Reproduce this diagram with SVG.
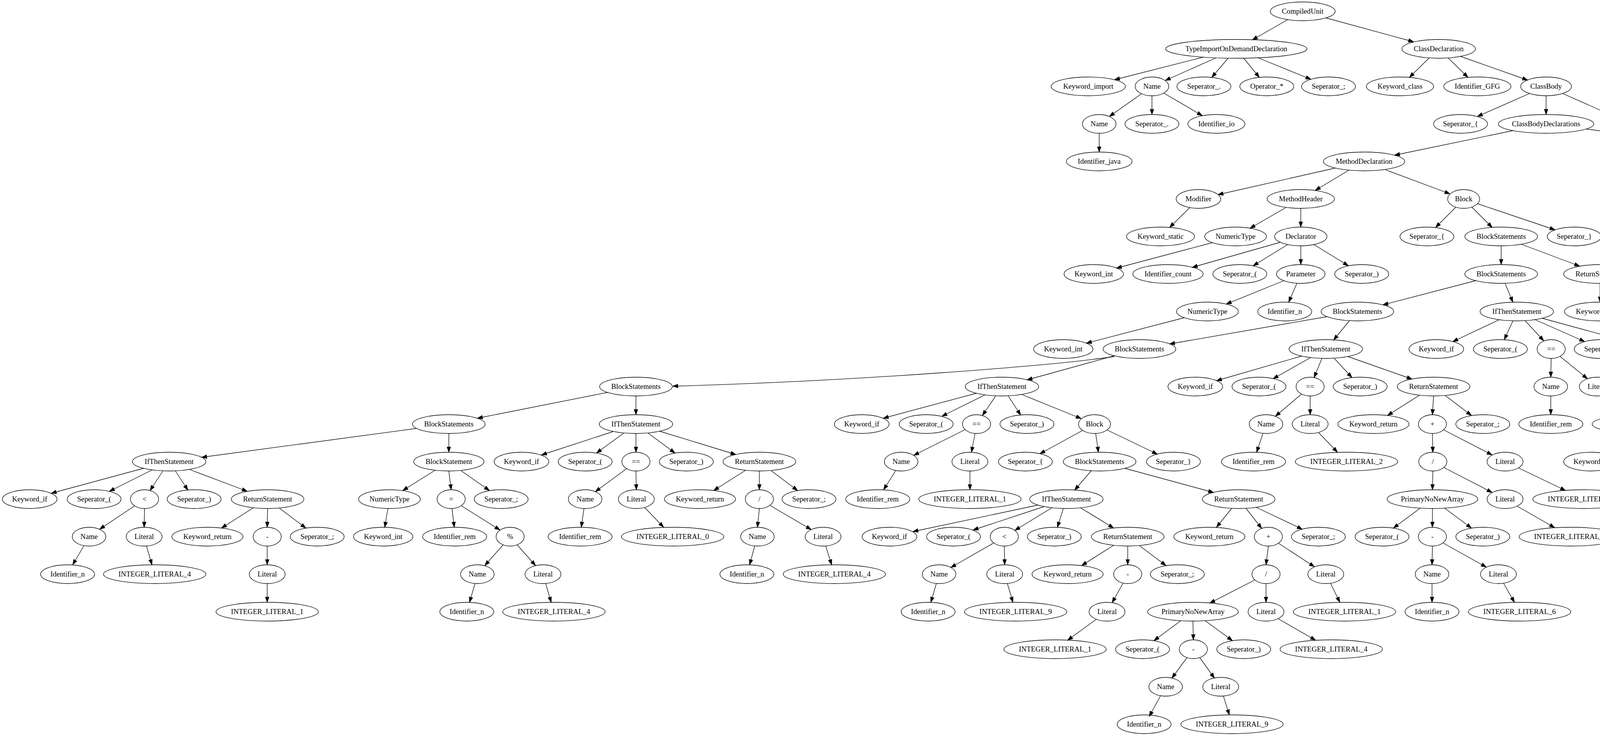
<svg xmlns="http://www.w3.org/2000/svg" width="7995" height="1883" viewBox="0 0 7995 1883">
<style>
.node ellipse{fill:none;stroke:#000;stroke-width:1.33}
.node text{font-family:"Liberation Serif","Times New Roman",serif;font-size:18.67px;text-anchor:middle;fill:#000}
.edges line,.edges path{fill:none;stroke:#000;stroke-width:1.33;marker-end:url(#ah)}
</style>
<defs>
<marker id="ah" markerWidth="16" markerHeight="12" refX="13.3" refY="4.7" orient="auto" markerUnits="userSpaceOnUse" overflow="visible"><path d="M0,0 L13.3,4.7 L0,9.4 z" fill="#000" stroke="#000" stroke-width="1"/></marker>
</defs>
<rect width="7995" height="1883" fill="#fff"/>
<g class="edges">
<line x1="3297" y1="50" x2="3206" y2="102"/>
<line x1="3395" y1="46" x2="3619" y2="107"/>
<line x1="3081" y1="146" x2="2853" y2="204"/>
<line x1="3113" y1="148" x2="2983" y2="206"/>
<line x1="3144" y1="149" x2="3102" y2="198"/>
<line x1="3184" y1="149" x2="3224" y2="198"/>
<line x1="3221" y1="148" x2="3356" y2="203"/>
<line x1="3659" y1="148" x2="3608" y2="198"/>
<line x1="3707" y1="148" x2="3758" y2="198"/>
<line x1="3738" y1="144" x2="3911" y2="205"/>
<line x1="2922" y1="240" x2="2840" y2="298"/>
<line x1="2949" y1="245" x2="2949" y2="293"/>
<line x1="2979" y1="238" x2="3078" y2="296"/>
<line x1="3916" y1="239" x2="3782" y2="298"/>
<line x1="3958" y1="245" x2="3958" y2="293"/>
<line x1="4000" y1="239" x2="4133" y2="298"/>
<line x1="2814" y1="341" x2="2814" y2="389"/>
<line x1="3874" y1="334" x2="3570" y2="397"/>
<line x1="4060" y1="330" x2="4604" y2="401"/>
<line x1="3418" y1="430" x2="3118" y2="498"/>
<line x1="3454" y1="435" x2="3367" y2="487"/>
<line x1="3546" y1="434" x2="3712" y2="496"/>
<line x1="3046" y1="531" x2="2994" y2="582"/>
<line x1="3292" y1="531" x2="3200" y2="584"/>
<line x1="3330" y1="533" x2="3330" y2="581"/>
<line x1="3727" y1="530" x2="3675" y2="582"/>
<line x1="3768" y1="530" x2="3820" y2="582"/>
<line x1="3782" y1="521" x2="3981" y2="588"/>
<line x1="3103" y1="621" x2="2858" y2="686"/>
<line x1="3277" y1="620" x2="3052" y2="684"/>
<line x1="3296" y1="626" x2="3208" y2="680"/>
<line x1="3330" y1="629" x2="3330" y2="677"/>
<line x1="3364" y1="626" x2="3452" y2="680"/>
<line x1="3843" y1="629" x2="3843" y2="677"/>
<line x1="3895" y1="625" x2="4044" y2="681"/>
<line x1="3287" y1="718" x2="3139" y2="778"/>
<line x1="3320" y1="725" x2="3299" y2="773"/>
<line x1="3778" y1="718" x2="3540" y2="780"/>
<line x1="3853" y1="725" x2="3873" y2="773"/>
<line x1="4096" y1="725" x2="4096" y2="773"/>
<line x1="4133" y1="723" x2="4227" y2="779"/>
<line x1="4154" y1="720" x2="4340" y2="781"/>
<line x1="3031" y1="813" x2="2781" y2="878"/>
<line x1="3398" y1="810" x2="2994" y2="880"/>
<line x1="3455" y1="820" x2="3414" y2="870"/>
<line x1="3838" y1="818" x2="3719" y2="874"/>
<line x1="3873" y1="821" x2="3851" y2="869"/>
<line x1="3904" y1="820" x2="3952" y2="872"/>
<line x1="3930" y1="818" x2="4057" y2="874"/>
<line x1="3947" y1="814" x2="4200" y2="883"/>
<line x1="4289" y1="814" x2="4394" y2="870"/>
<line x1="3332" y1="911" x2="3114" y2="974"/>
<line x1="3355" y1="915" x2="3259" y2="969"/>
<line x1="3384" y1="917" x2="3364" y2="966"/>
<line x1="3415" y1="916" x2="3461" y2="966"/>
<line x1="3450" y1="912" x2="3615" y2="970"/>
<line x1="3971" y1="917" x2="3970" y2="965"/>
<line x1="3994" y1="912" x2="4064" y2="969"/>
<line x1="4237" y1="917" x2="4236" y2="965"/>
<line x1="4269" y1="908" x2="4394" y2="968"/>
<line x1="4275" y1="902" x2="4572" y2="975"/>
<line x1="3332" y1="1008" x2="3265" y2="1065"/>
<line x1="3354" y1="1013" x2="3354" y2="1061"/>
<line x1="3634" y1="1011" x2="3552" y2="1063"/>
<line x1="3670" y1="1013" x2="3667" y2="1061"/>
<line x1="3700" y1="1012" x2="3767" y2="1063"/>
<line x1="3970" y1="1013" x2="3970" y2="1061"/>
<line x1="4114" y1="1009" x2="4178" y2="1062"/>
<line x1="4442" y1="1013" x2="4452" y2="1061"/>
<line x1="4513" y1="1003" x2="4863" y2="1071"/>
<line x1="3233" y1="1109" x2="3217" y2="1157"/>
<line x1="3375" y1="1106" x2="3424" y2="1157"/>
<line x1="3667" y1="1109" x2="3668" y2="1157"/>
<line x1="3696" y1="1100" x2="3820" y2="1164"/>
<line x1="4389" y1="1102" x2="4130" y2="1167"/>
<line x1="4408" y1="1106" x2="4278" y2="1162"/>
<line x1="4434" y1="1108" x2="4385" y2="1161"/>
<line x1="4466" y1="1109" x2="4485" y2="1157"/>
<line x1="4504" y1="1106" x2="4633" y2="1160"/>
<line x1="4926" y1="1109" x2="4903" y2="1157"/>
<line x1="4963" y1="1108" x2="5021" y2="1162"/>
<line x1="4987" y1="1105" x2="5127" y2="1163"/>
<line x1="3668" y1="1205" x2="3667" y2="1253"/>
<line x1="3696" y1="1196" x2="3820" y2="1260"/>
<line x1="3887" y1="1197" x2="4008" y2="1255"/>
<line x1="4344" y1="1200" x2="4278" y2="1257"/>
<line x1="4366" y1="1205" x2="4368" y2="1253"/>
<line x1="4646" y1="1203" x2="4565" y2="1255"/>
<line x1="4681" y1="1205" x2="4681" y2="1253"/>
<line x1="4711" y1="1204" x2="4780" y2="1255"/>
<line x1="5042" y1="1205" x2="5042" y2="1253"/>
<line x1="5071" y1="1195" x2="5210" y2="1261"/>
<line x1="3636" y1="1300" x2="3567" y2="1351"/>
<line x1="3667" y1="1301" x2="3667" y2="1349"/>
<line x1="3698" y1="1300" x2="3767" y2="1351"/>
<line x1="3884" y1="1295" x2="3980" y2="1350"/>
<line x1="4254" y1="1301" x2="4247" y2="1349"/>
<line x1="4391" y1="1298" x2="4448" y2="1349"/>
<line x1="4681" y1="1301" x2="4681" y2="1349"/>
<line x1="5023" y1="1297" x2="4973" y2="1349"/>
<line x1="5062" y1="1297" x2="5117" y2="1352"/>
<line x1="5265" y1="1298" x2="5316" y2="1349"/>
<line x1="3667" y1="1397" x2="3666" y2="1445"/>
<line x1="3694" y1="1389" x2="3805" y2="1451"/>
<line x1="4662" y1="1395" x2="4618" y2="1445"/>
<line x1="4919" y1="1396" x2="4850" y2="1447"/>
<line x1="4950" y1="1397" x2="4951" y2="1445"/>
<line x1="4981" y1="1396" x2="5051" y2="1447"/>
<line x1="5169" y1="1391" x2="5264" y2="1446"/>
<line x1="3666" y1="1493" x2="3666" y2="1541"/>
<line x1="3849" y1="1492" x2="3877" y2="1541"/>
<line x1="4932" y1="1490" x2="4883" y2="1544"/>
<line x1="4969" y1="1490" x2="5017" y2="1543"/>
<line x1="4856" y1="1589" x2="4842" y2="1637"/>
<line x1="5043" y1="1589" x2="5058" y2="1637"/>
<path d="M2853,912 C2700,935 2200,975 1722,988"/>
<line x1="2853" y1="910" x2="2629" y2="972"/>
<line x1="1555" y1="1004" x2="1222" y2="1070"/>
<line x1="1628" y1="1013" x2="1628" y2="1061"/>
<line x1="2500" y1="1006" x2="2261" y2="1070"/>
<line x1="2522" y1="1010" x2="2411" y2="1065"/>
<line x1="2549" y1="1013" x2="2515" y2="1063"/>
<line x1="2581" y1="1013" x2="2613" y2="1062"/>
<line x1="2615" y1="1009" x2="2768" y2="1071"/>
<line x1="1570" y1="1104" x2="1386" y2="1164"/>
<line x1="1597" y1="1108" x2="1527" y2="1159"/>
<line x1="1628" y1="1109" x2="1628" y2="1157"/>
<line x1="1659" y1="1108" x2="1728" y2="1159"/>
<line x1="1688" y1="1103" x2="1884" y2="1163"/>
<line x1="2471" y1="1099" x2="2339" y2="1165"/>
<line x1="2496" y1="1109" x2="2487" y2="1157"/>
<line x1="2772" y1="1101" x2="2662" y2="1161"/>
<line x1="2805" y1="1109" x2="2812" y2="1157"/>
<line x1="2834" y1="1100" x2="2963" y2="1162"/>
<line x1="1067" y1="1096" x2="516" y2="1170"/>
<line x1="1149" y1="1109" x2="1149" y2="1157"/>
<line x1="368" y1="1198" x2="131" y2="1262"/>
<line x1="390" y1="1202" x2="280" y2="1257"/>
<line x1="417" y1="1205" x2="384" y2="1255"/>
<line x1="449" y1="1205" x2="481" y2="1254"/>
<line x1="485" y1="1201" x2="633" y2="1257"/>
<line x1="1114" y1="1203" x2="1031" y2="1255"/>
<line x1="1149" y1="1205" x2="1155" y2="1253"/>
<line x1="1180" y1="1204" x2="1253" y2="1255"/>
<line x1="1604" y1="1199" x2="1524" y2="1258"/>
<line x1="1628" y1="1205" x2="1629" y2="1253"/>
<line x1="1909" y1="1203" x2="1827" y2="1255"/>
<line x1="1944" y1="1205" x2="1944" y2="1253"/>
<line x1="1974" y1="1204" x2="2042" y2="1255"/>
<line x1="2293" y1="1204" x2="2262" y2="1253"/>
<line x1="2483" y1="1205" x2="2483" y2="1253"/>
<line x1="2794" y1="1204" x2="2751" y2="1254"/>
<line x1="2879" y1="1198" x2="3107" y2="1260"/>
<line x1="345" y1="1294" x2="255" y2="1354"/>
<line x1="370" y1="1301" x2="369" y2="1349"/>
<line x1="649" y1="1299" x2="567" y2="1351"/>
<line x1="685" y1="1301" x2="684" y2="1349"/>
<line x1="715" y1="1300" x2="783" y2="1351"/>
<line x1="993" y1="1301" x2="985" y2="1349"/>
<line x1="1157" y1="1301" x2="1163" y2="1349"/>
<line x1="1181" y1="1294" x2="1280" y2="1356"/>
<line x1="1495" y1="1301" x2="1488" y2="1349"/>
<line x1="1650" y1="1298" x2="1699" y2="1349"/>
<line x1="1944" y1="1301" x2="1939" y2="1349"/>
<line x1="1971" y1="1293" x2="2077" y2="1355"/>
<line x1="2658" y1="1292" x2="2337" y2="1360"/>
<line x1="2673" y1="1296" x2="2491" y2="1356"/>
<line x1="2693" y1="1299" x2="2598" y2="1357"/>
<line x1="2722" y1="1301" x2="2707" y2="1349"/>
<line x1="2766" y1="1299" x2="2851" y2="1351"/>
<line x1="3153" y1="1301" x2="3114" y2="1349"/>
<line x1="3190" y1="1301" x2="3230" y2="1352"/>
<line x1="3216" y1="1298" x2="3334" y2="1354"/>
<line x1="215" y1="1396" x2="186" y2="1445"/>
<line x1="375" y1="1397" x2="389" y2="1445"/>
<line x1="684" y1="1397" x2="684" y2="1445"/>
<line x1="1288" y1="1394" x2="1241" y2="1447"/>
<line x1="1324" y1="1394" x2="1371" y2="1447"/>
<line x1="1932" y1="1397" x2="1919" y2="1445"/>
<line x1="2114" y1="1397" x2="2129" y2="1445"/>
<line x1="2544" y1="1389" x2="2434" y2="1452"/>
<line x1="2571" y1="1397" x2="2572" y2="1445"/>
<line x1="2851" y1="1395" x2="2769" y2="1447"/>
<line x1="2887" y1="1397" x2="2887" y2="1445"/>
<line x1="2917" y1="1396" x2="2985" y2="1447"/>
<line x1="3247" y1="1397" x2="3241" y2="1445"/>
<line x1="3273" y1="1390" x2="3365" y2="1450"/>
<line x1="684" y1="1493" x2="684" y2="1541"/>
<line x1="1216" y1="1493" x2="1202" y2="1541"/>
<line x1="1397" y1="1493" x2="1411" y2="1541"/>
<line x1="2397" y1="1493" x2="2383" y2="1541"/>
<line x1="2579" y1="1493" x2="2593" y2="1541"/>
<line x1="2875" y1="1492" x2="2847" y2="1542"/>
<line x1="3212" y1="1484" x2="3097" y2="1543"/>
<line x1="3241" y1="1493" x2="3241" y2="1541"/>
<line x1="3406" y1="1492" x2="3430" y2="1541"/>
<line x1="2807" y1="1584" x2="2733" y2="1638"/>
<line x1="3023" y1="1588" x2="2954" y2="1639"/>
<line x1="3054" y1="1589" x2="3055" y2="1637"/>
<line x1="3085" y1="1588" x2="3155" y2="1639"/>
<line x1="3272" y1="1583" x2="3368" y2="1638"/>
<line x1="3039" y1="1682" x2="3000" y2="1735"/>
<line x1="3071" y1="1682" x2="3109" y2="1735"/>
<line x1="2971" y1="1780" x2="2942" y2="1833"/>
<line x1="3132" y1="1781" x2="3147" y2="1829"/>
<line x1="4671" y1="436" x2="4622" y2="487"/>
<line x1="4717" y1="436" x2="4766" y2="486"/>
<line x1="4795" y1="419" x2="6209" y2="507"/>
<line x1="4565" y1="529" x2="4464" y2="586"/>
<line x1="4600" y1="533" x2="4600" y2="581"/>
<line x1="4789" y1="533" x2="4789" y2="581"/>
<line x1="4831" y1="530" x2="4942" y2="586"/>
<line x1="6229" y1="530" x2="6174" y2="582"/>
<line x1="6271" y1="530" x2="6322" y2="582"/>
<line x1="6286" y1="521" x2="6484" y2="588"/>
<line x1="4421" y1="629" x2="4404" y2="677"/>
<line x1="4600" y1="629" x2="4600" y2="677"/>
<line x1="4944" y1="625" x2="4840" y2="680"/>
<line x1="4981" y1="629" x2="4981" y2="677"/>
<line x1="5015" y1="626" x2="5103" y2="681"/>
<line x1="5032" y1="621" x2="5241" y2="685"/>
<line x1="6345" y1="629" x2="6345" y2="677"/>
<path d="M6432,614 C6700,650 6950,675 7205,691"/>
<line x1="5104" y1="722" x2="5019" y2="776"/>
<line x1="5142" y1="725" x2="5153" y2="773"/>
<line x1="6297" y1="722" x2="6167" y2="777"/>
<line x1="6406" y1="719" x2="6601" y2="777"/>
<line x1="7308" y1="725" x2="7308" y2="773"/>
<line x1="7353" y1="723" x2="7462" y2="777"/>
<line x1="4955" y1="818" x2="4875" y2="871"/>
<line x1="4992" y1="821" x2="5003" y2="869"/>
<line x1="6042" y1="810" x2="5629" y2="880"/>
<line x1="6119" y1="821" x2="6119" y2="869"/>
<line x1="6667" y1="821" x2="6667" y2="869"/>
<line x1="6698" y1="820" x2="6766" y2="871"/>
<line x1="7245" y1="816" x2="7021" y2="882"/>
<line x1="7265" y1="819" x2="7158" y2="873"/>
<line x1="7308" y1="821" x2="7308" y2="869"/>
<line x1="7350" y1="819" x2="7456" y2="873"/>
<line x1="7378" y1="814" x2="7622" y2="876"/>
<path d="M7391,811 C7560,850 7720,855 7821,883"/>
<line x1="4837" y1="917" x2="4827" y2="965"/>
<line x1="5008" y1="917" x2="5009" y2="965"/>
<line x1="5036" y1="909" x2="5137" y2="968"/>
<line x1="5509" y1="914" x2="5391" y2="969"/>
<line x1="5537" y1="917" x2="5504" y2="967"/>
<line x1="5568" y1="917" x2="5600" y2="966"/>
<line x1="6095" y1="916" x2="6046" y2="966"/>
<line x1="6143" y1="916" x2="6193" y2="966"/>
<line x1="6667" y1="917" x2="6668" y2="965"/>
<line x1="6691" y1="911" x2="6773" y2="970"/>
<line x1="6969" y1="916" x2="6937" y2="966"/>
<line x1="7000" y1="915" x2="7040" y2="966"/>
<line x1="7018" y1="907" x2="7180" y2="970"/>
<line x1="7642" y1="914" x2="7512" y2="969"/>
<line x1="7680" y1="917" x2="7659" y2="966"/>
<line x1="7714" y1="916" x2="7764" y2="968"/>
<line x1="7741" y1="914" x2="7876" y2="971"/>
<line x1="5311" y1="1010" x2="5218" y2="1064"/>
<line x1="5464" y1="1006" x2="5381" y2="1064"/>
<line x1="5489" y1="1013" x2="5489" y2="1061"/>
<path d="M5949,1006 C5780,1030 5700,1050 5643,1076"/>
<line x1="5964" y1="1009" x2="5789" y2="1068"/>
<line x1="5999" y1="1012" x2="5952" y2="1062"/>
<line x1="6045" y1="1012" x2="6094" y2="1062"/>
<line x1="6081" y1="1009" x2="6252" y2="1066"/>
<path d="M6100,1004 C6250,1030 6380,1050 6445,1073"/>
<line x1="6668" y1="1013" x2="6668" y2="1061"/>
<line x1="6823" y1="1010" x2="6878" y2="1061"/>
<line x1="6958" y1="1003" x2="7117" y2="1065"/>
<line x1="7784" y1="1013" x2="7784" y2="1061"/>
<line x1="5469" y1="1107" x2="5422" y2="1157"/>
<line x1="5603" y1="1109" x2="5603" y2="1157"/>
<line x1="5630" y1="1104" x2="5709" y2="1160"/>
<line x1="5641" y1="1097" x2="5856" y2="1164"/>
<line x1="6267" y1="1107" x2="6159" y2="1160"/>
<line x1="6308" y1="1109" x2="6302" y2="1157"/>
<line x1="6341" y1="1108" x2="6411" y2="1162"/>
<line x1="6366" y1="1105" x2="6525" y2="1164"/>
<line x1="5603" y1="1205" x2="5605" y2="1253"/>
<line x1="6436" y1="1205" x2="6436" y2="1253"/>
</g>
<g id="n0" class="node"><ellipse cx="3335" cy="29" rx="83" ry="24"/><text x="3335" y="35">CompiledUnit</text></g>
<g id="n1" class="node"><ellipse cx="3165" cy="125" rx="181" ry="24"/><text x="3165" y="131">TypeImportOnDemandDeclaration</text></g>
<g id="n2" class="node"><ellipse cx="3683" cy="125" rx="94" ry="24"/><text x="3683" y="131">ClassDeclaration</text></g>
<g id="n3" class="node"><ellipse cx="2786" cy="221" rx="95" ry="24"/><text x="2786" y="227">Keyword_import</text></g>
<g id="n4" class="node"><ellipse cx="2949" cy="221" rx="43" ry="24"/><text x="2949" y="227">Name</text></g>
<g id="n5" class="node"><ellipse cx="3082" cy="221" rx="69" ry="24"/><text x="3082" y="227">Seperator_.</text></g>
<g id="n6" class="node"><ellipse cx="3243" cy="221" rx="69" ry="24"/><text x="3243" y="227">Operator_*</text></g>
<g id="n7" class="node"><ellipse cx="3401" cy="221" rx="69" ry="24"/><text x="3401" y="227">Seperator_;</text></g>
<g id="n8" class="node"><ellipse cx="3584" cy="221" rx="86" ry="24"/><text x="3584" y="227">Keyword_class</text></g>
<g id="n9" class="node"><ellipse cx="3782" cy="221" rx="86" ry="24"/><text x="3782" y="227">Identifier_GFG</text></g>
<g id="n10" class="node"><ellipse cx="3958" cy="221" rx="65" ry="24"/><text x="3958" y="227">ClassBody</text></g>
<g id="n11" class="node"><ellipse cx="2814" cy="317" rx="43" ry="24"/><text x="2814" y="323">Name</text></g>
<g id="n12" class="node"><ellipse cx="2949" cy="317" rx="69" ry="24"/><text x="2949" y="323">Seperator_.</text></g>
<g id="n13" class="node"><ellipse cx="3114" cy="317" rx="73" ry="24"/><text x="3114" y="323">Identifier_io</text></g>
<g id="n14" class="node"><ellipse cx="3739" cy="317" rx="69" ry="24"/><text x="3739" y="323">Seperator_{</text></g>
<g id="n15" class="node"><ellipse cx="3958" cy="317" rx="122" ry="24"/><text x="3958" y="323">ClassBodyDeclarations</text></g>
<g id="n16" class="node"><ellipse cx="4176" cy="317" rx="69" ry="24"/><text x="4176" y="323">Seperator_}</text></g>
<g id="n17" class="node"><ellipse cx="2814" cy="413" rx="84" ry="24"/><text x="2814" y="419">Identifier_java</text></g>
<g id="n18" class="node"><ellipse cx="3492" cy="413" rx="104" ry="24"/><text x="3492" y="419">MethodDeclaration</text></g>
<g id="n19" class="node"><ellipse cx="4694" cy="413" rx="104" ry="24"/><text x="4694" y="419">MethodDeclaration</text></g>
<g id="n20" class="node"><ellipse cx="3068" cy="509" rx="57" ry="24"/><text x="3068" y="515">Modifier</text></g>
<g id="n21" class="node"><ellipse cx="3330" cy="509" rx="86" ry="24"/><text x="3330" y="515">MethodHeader</text></g>
<g id="n22" class="node"><ellipse cx="3747" cy="509" rx="41" ry="24"/><text x="3747" y="515">Block</text></g>
<g id="n23" class="node"><ellipse cx="2971" cy="605" rx="87" ry="24"/><text x="2971" y="611">Keyword_static</text></g>
<g id="n24" class="node"><ellipse cx="3163" cy="605" rx="79" ry="24"/><text x="3163" y="611">NumericType</text></g>
<g id="n25" class="node"><ellipse cx="3330" cy="605" rx="67" ry="24"/><text x="3330" y="611">Declarator</text></g>
<g id="n26" class="node"><ellipse cx="3653" cy="605" rx="69" ry="24"/><text x="3653" y="611">Seperator_{</text></g>
<g id="n27" class="node"><ellipse cx="3843" cy="605" rx="93" ry="24"/><text x="3843" y="611">BlockStatements</text></g>
<g id="n28" class="node"><ellipse cx="4030" cy="605" rx="69" ry="24"/><text x="4030" y="611">Seperator_}</text></g>
<g id="n29" class="node"><ellipse cx="2800" cy="701" rx="76" ry="24"/><text x="2800" y="707">Keyword_int</text></g>
<g id="n30" class="node"><ellipse cx="2990" cy="701" rx="90" ry="24"/><text x="2990" y="707">Identifier_count</text></g>
<g id="n31" class="node"><ellipse cx="3174" cy="701" rx="69" ry="24"/><text x="3174" y="707">Seperator_(</text></g>
<g id="n32" class="node"><ellipse cx="3330" cy="701" rx="62" ry="24"/><text x="3330" y="707">Parameter</text></g>
<g id="n33" class="node"><ellipse cx="3486" cy="701" rx="69" ry="24"/><text x="3486" y="707">Seperator_)</text></g>
<g id="n34" class="node"><ellipse cx="3843" cy="701" rx="93" ry="24"/><text x="3843" y="707">BlockStatements</text></g>
<g id="n35" class="node"><ellipse cx="4096" cy="701" rx="93" ry="24"/><text x="4096" y="707">ReturnStatement</text></g>
<g id="n36" class="node"><ellipse cx="3091" cy="797" rx="79" ry="24"/><text x="3091" y="803">NumericType</text></g>
<g id="n37" class="node"><ellipse cx="3289" cy="797" rx="69" ry="24"/><text x="3289" y="803">Identifier_n</text></g>
<g id="n38" class="node"><ellipse cx="3475" cy="797" rx="93" ry="24"/><text x="3475" y="803">BlockStatements</text></g>
<g id="n39" class="node"><ellipse cx="3883" cy="797" rx="94" ry="24"/><text x="3883" y="803">IfThenStatement</text></g>
<g id="n40" class="node"><ellipse cx="4096" cy="797" rx="91" ry="24"/><text x="4096" y="803">Keyword_return</text></g>
<g id="n41" class="node"><ellipse cx="4257" cy="797" rx="46" ry="24"/><text x="4257" y="803">Literal</text></g>
<g id="n42" class="node"><ellipse cx="4390" cy="797" rx="69" ry="24"/><text x="4390" y="803">Seperator_;</text></g>
<g id="n43" class="node"><ellipse cx="2722" cy="893" rx="76" ry="24"/><text x="2722" y="899">Keyword_int</text></g>
<g id="n44" class="node"><ellipse cx="2917" cy="893" rx="93" ry="24"/><text x="2917" y="899">BlockStatements</text></g>
<g id="n45" class="node"><ellipse cx="3394" cy="893" rx="94" ry="24"/><text x="3394" y="899">IfThenStatement</text></g>
<g id="n46" class="node"><ellipse cx="3677" cy="893" rx="70" ry="24"/><text x="3677" y="899">Keyword_if</text></g>
<g id="n47" class="node"><ellipse cx="3841" cy="893" rx="69" ry="24"/><text x="3841" y="899">Seperator_(</text></g>
<g id="n48" class="node"><ellipse cx="3971" cy="893" rx="36" ry="24"/><text x="3971" y="899">==</text></g>
<g id="n49" class="node"><ellipse cx="4099" cy="893" rx="69" ry="24"/><text x="4099" y="899">Seperator_)</text></g>
<g id="n50" class="node"><ellipse cx="4237" cy="893" rx="41" ry="24"/><text x="4237" y="899">Block</text></g>
<g id="n51" class="node"><ellipse cx="4437" cy="893" rx="131" ry="24"/><text x="4437" y="899">INTEGER_LITERAL_0</text></g>
<g id="n52" class="node"><ellipse cx="3060" cy="989" rx="70" ry="24"/><text x="3060" y="995">Keyword_if</text></g>
<g id="n53" class="node"><ellipse cx="3223" cy="989" rx="69" ry="24"/><text x="3223" y="995">Seperator_(</text></g>
<g id="n54" class="node"><ellipse cx="3354" cy="989" rx="36" ry="24"/><text x="3354" y="995">==</text></g>
<g id="n55" class="node"><ellipse cx="3482" cy="989" rx="69" ry="24"/><text x="3482" y="995">Seperator_)</text></g>
<g id="n56" class="node"><ellipse cx="3670" cy="989" rx="93" ry="24"/><text x="3670" y="995">ReturnStatement</text></g>
<g id="n57" class="node"><ellipse cx="3970" cy="989" rx="43" ry="24"/><text x="3970" y="995">Name</text></g>
<g id="n58" class="node"><ellipse cx="4089" cy="989" rx="46" ry="24"/><text x="4089" y="995">Literal</text></g>
<g id="n59" class="node"><ellipse cx="4236" cy="989" rx="69" ry="24"/><text x="4236" y="995">Seperator_{</text></g>
<g id="n60" class="node"><ellipse cx="4438" cy="989" rx="93" ry="24"/><text x="4438" y="995">BlockStatements</text></g>
<g id="n61" class="node"><ellipse cx="4628" cy="989" rx="69" ry="24"/><text x="4628" y="995">Seperator_}</text></g>
<g id="n62" class="node"><ellipse cx="3241" cy="1085" rx="43" ry="24"/><text x="3241" y="1091">Name</text></g>
<g id="n63" class="node"><ellipse cx="3354" cy="1085" rx="46" ry="24"/><text x="3354" y="1091">Literal</text></g>
<g id="n64" class="node"><ellipse cx="3516" cy="1085" rx="91" ry="24"/><text x="3516" y="1091">Keyword_return</text></g>
<g id="n65" class="node"><ellipse cx="3667" cy="1085" rx="36" ry="24"/><text x="3667" y="1091">+</text></g>
<g id="n66" class="node"><ellipse cx="3796" cy="1085" rx="69" ry="24"/><text x="3796" y="1091">Seperator_;</text></g>
<g id="n67" class="node"><ellipse cx="3970" cy="1085" rx="82" ry="24"/><text x="3970" y="1091">Identifier_rem</text></g>
<g id="n68" class="node"><ellipse cx="4207" cy="1085" rx="131" ry="24"/><text x="4207" y="1091">INTEGER_LITERAL_3</text></g>
<g id="n69" class="node"><ellipse cx="4456" cy="1085" rx="94" ry="24"/><text x="4456" y="1091">IfThenStatement</text></g>
<g id="n70" class="node"><ellipse cx="4938" cy="1085" rx="93" ry="24"/><text x="4938" y="1091">ReturnStatement</text></g>
<g id="n71" class="node"><ellipse cx="3209" cy="1181" rx="82" ry="24"/><text x="3209" y="1187">Identifier_rem</text></g>
<g id="n72" class="node"><ellipse cx="3447" cy="1181" rx="131" ry="24"/><text x="3447" y="1187">INTEGER_LITERAL_2</text></g>
<g id="n73" class="node"><ellipse cx="3668" cy="1181" rx="36" ry="24"/><text x="3668" y="1187">/</text></g>
<g id="n74" class="node"><ellipse cx="3853" cy="1181" rx="46" ry="24"/><text x="3853" y="1187">Literal</text></g>
<g id="n75" class="node"><ellipse cx="4073" cy="1181" rx="70" ry="24"/><text x="4073" y="1187">Keyword_if</text></g>
<g id="n76" class="node"><ellipse cx="4235" cy="1181" rx="69" ry="24"/><text x="4235" y="1187">Seperator_(</text></g>
<g id="n77" class="node"><ellipse cx="4366" cy="1181" rx="36" ry="24"/><text x="4366" y="1187">&lt;</text></g>
<g id="n78" class="node"><ellipse cx="4495" cy="1181" rx="69" ry="24"/><text x="4495" y="1187">Seperator_)</text></g>
<g id="n79" class="node"><ellipse cx="4681" cy="1181" rx="93" ry="24"/><text x="4681" y="1187">ReturnStatement</text></g>
<g id="n80" class="node"><ellipse cx="4891" cy="1181" rx="91" ry="24"/><text x="4891" y="1187">Keyword_return</text></g>
<g id="n81" class="node"><ellipse cx="5042" cy="1181" rx="36" ry="24"/><text x="5042" y="1187">+</text></g>
<g id="n82" class="node"><ellipse cx="5171" cy="1181" rx="69" ry="24"/><text x="5171" y="1187">Seperator_;</text></g>
<g id="n83" class="node"><ellipse cx="3667" cy="1277" rx="116" ry="24"/><text x="3667" y="1283">PrimaryNoNewArray</text></g>
<g id="n84" class="node"><ellipse cx="3853" cy="1277" rx="46" ry="24"/><text x="3853" y="1283">Literal</text></g>
<g id="n85" class="node"><ellipse cx="4055" cy="1277" rx="131" ry="24"/><text x="4055" y="1283">INTEGER_LITERAL_1</text></g>
<g id="n86" class="node"><ellipse cx="4254" cy="1277" rx="43" ry="24"/><text x="4254" y="1283">Name</text></g>
<g id="n87" class="node"><ellipse cx="4368" cy="1277" rx="46" ry="24"/><text x="4368" y="1283">Literal</text></g>
<g id="n88" class="node"><ellipse cx="4530" cy="1277" rx="91" ry="24"/><text x="4530" y="1283">Keyword_return</text></g>
<g id="n89" class="node"><ellipse cx="4681" cy="1277" rx="36" ry="24"/><text x="4681" y="1283">-</text></g>
<g id="n90" class="node"><ellipse cx="4809" cy="1277" rx="69" ry="24"/><text x="4809" y="1283">Seperator_;</text></g>
<g id="n91" class="node"><ellipse cx="5042" cy="1277" rx="36" ry="24"/><text x="5042" y="1283">/</text></g>
<g id="n92" class="node"><ellipse cx="5244" cy="1277" rx="46" ry="24"/><text x="5244" y="1283">Literal</text></g>
<g id="n93" class="node"><ellipse cx="3538" cy="1373" rx="69" ry="24"/><text x="3538" y="1379">Seperator_(</text></g>
<g id="n94" class="node"><ellipse cx="3667" cy="1373" rx="36" ry="24"/><text x="3667" y="1379">-</text></g>
<g id="n95" class="node"><ellipse cx="3796" cy="1373" rx="69" ry="24"/><text x="3796" y="1379">Seperator_)</text></g>
<g id="n96" class="node"><ellipse cx="4020" cy="1373" rx="131" ry="24"/><text x="4020" y="1379">INTEGER_LITERAL_4</text></g>
<g id="n97" class="node"><ellipse cx="4245" cy="1373" rx="69" ry="24"/><text x="4245" y="1379">Identifier_n</text></g>
<g id="n98" class="node"><ellipse cx="4474" cy="1373" rx="137" ry="24"/><text x="4474" y="1379">INTEGER_LITERAL_15</text></g>
<g id="n99" class="node"><ellipse cx="4681" cy="1373" rx="46" ry="24"/><text x="4681" y="1379">Literal</text></g>
<g id="n100" class="node"><ellipse cx="4950" cy="1373" rx="116" ry="24"/><text x="4950" y="1379">PrimaryNoNewArray</text></g>
<g id="n101" class="node"><ellipse cx="5138" cy="1373" rx="46" ry="24"/><text x="5138" y="1379">Literal</text></g>
<g id="n102" class="node"><ellipse cx="5339" cy="1373" rx="131" ry="24"/><text x="5339" y="1379">INTEGER_LITERAL_2</text></g>
<g id="n103" class="node"><ellipse cx="3666" cy="1469" rx="43" ry="24"/><text x="3666" y="1475">Name</text></g>
<g id="n104" class="node"><ellipse cx="3836" cy="1469" rx="46" ry="24"/><text x="3836" y="1475">Literal</text></g>
<g id="n105" class="node"><ellipse cx="4597" cy="1469" rx="131" ry="24"/><text x="4597" y="1475">INTEGER_LITERAL_1</text></g>
<g id="n106" class="node"><ellipse cx="4821" cy="1469" rx="69" ry="24"/><text x="4821" y="1475">Seperator_(</text></g>
<g id="n107" class="node"><ellipse cx="4951" cy="1469" rx="36" ry="24"/><text x="4951" y="1475">-</text></g>
<g id="n108" class="node"><ellipse cx="5080" cy="1469" rx="69" ry="24"/><text x="5080" y="1475">Seperator_)</text></g>
<g id="n109" class="node"><ellipse cx="5304" cy="1469" rx="131" ry="24"/><text x="5304" y="1475">INTEGER_LITERAL_4</text></g>
<g id="n110" class="node"><ellipse cx="3666" cy="1565" rx="69" ry="24"/><text x="3666" y="1571">Identifier_n</text></g>
<g id="n111" class="node"><ellipse cx="3890" cy="1565" rx="131" ry="24"/><text x="3890" y="1571">INTEGER_LITERAL_6</text></g>
<g id="n112" class="node"><ellipse cx="4863" cy="1565" rx="43" ry="24"/><text x="4863" y="1571">Name</text></g>
<g id="n113" class="node"><ellipse cx="5036" cy="1565" rx="46" ry="24"/><text x="5036" y="1571">Literal</text></g>
<g id="n114" class="node"><ellipse cx="4835" cy="1661" rx="69" ry="24"/><text x="4835" y="1667">Identifier_n</text></g>
<g id="n115" class="node"><ellipse cx="5065" cy="1661" rx="137" ry="24"/><text x="5065" y="1667">INTEGER_LITERAL_15</text></g>
<g id="n116" class="node"><ellipse cx="1628" cy="989" rx="93" ry="24"/><text x="1628" y="995">BlockStatements</text></g>
<g id="n117" class="node"><ellipse cx="2565" cy="989" rx="94" ry="24"/><text x="2565" y="995">IfThenStatement</text></g>
<g id="n118" class="node"><ellipse cx="1149" cy="1085" rx="93" ry="24"/><text x="1149" y="1091">BlockStatements</text></g>
<g id="n119" class="node"><ellipse cx="1628" cy="1085" rx="94" ry="24"/><text x="1628" y="1091">IfThenStatement</text></g>
<g id="n120" class="node"><ellipse cx="2206" cy="1085" rx="70" ry="24"/><text x="2206" y="1091">Keyword_if</text></g>
<g id="n121" class="node"><ellipse cx="2371" cy="1085" rx="69" ry="24"/><text x="2371" y="1091">Seperator_(</text></g>
<g id="n122" class="node"><ellipse cx="2500" cy="1085" rx="36" ry="24"/><text x="2500" y="1091">==</text></g>
<g id="n123" class="node"><ellipse cx="2629" cy="1085" rx="69" ry="24"/><text x="2629" y="1091">Seperator_)</text></g>
<g id="n124" class="node"><ellipse cx="2802" cy="1085" rx="41" ry="24"/><text x="2802" y="1091">Block</text></g>
<g id="n125" class="node"><ellipse cx="433" cy="1181" rx="94" ry="24"/><text x="433" y="1187">IfThenStatement</text></g>
<g id="n126" class="node"><ellipse cx="1149" cy="1181" rx="90" ry="24"/><text x="1149" y="1187">BlockStatement</text></g>
<g id="n127" class="node"><ellipse cx="1335" cy="1181" rx="70" ry="24"/><text x="1335" y="1187">Keyword_if</text></g>
<g id="n128" class="node"><ellipse cx="1498" cy="1181" rx="69" ry="24"/><text x="1498" y="1187">Seperator_(</text></g>
<g id="n129" class="node"><ellipse cx="1628" cy="1181" rx="36" ry="24"/><text x="1628" y="1187">==</text></g>
<g id="n130" class="node"><ellipse cx="1757" cy="1181" rx="69" ry="24"/><text x="1757" y="1187">Seperator_)</text></g>
<g id="n131" class="node"><ellipse cx="1944" cy="1181" rx="93" ry="24"/><text x="1944" y="1187">ReturnStatement</text></g>
<g id="n132" class="node"><ellipse cx="2307" cy="1181" rx="43" ry="24"/><text x="2307" y="1187">Name</text></g>
<g id="n133" class="node"><ellipse cx="2483" cy="1181" rx="46" ry="24"/><text x="2483" y="1187">Literal</text></g>
<g id="n134" class="node"><ellipse cx="2625" cy="1181" rx="69" ry="24"/><text x="2625" y="1187">Seperator_{</text></g>
<g id="n135" class="node"><ellipse cx="2815" cy="1181" rx="93" ry="24"/><text x="2815" y="1187">BlockStatements</text></g>
<g id="n136" class="node"><ellipse cx="3004" cy="1181" rx="69" ry="24"/><text x="3004" y="1187">Seperator_}</text></g>
<g id="n137" class="node"><ellipse cx="76" cy="1277" rx="70" ry="24"/><text x="76" y="1283">Keyword_if</text></g>
<g id="n138" class="node"><ellipse cx="241" cy="1277" rx="69" ry="24"/><text x="241" y="1283">Seperator_(</text></g>
<g id="n139" class="node"><ellipse cx="370" cy="1277" rx="36" ry="24"/><text x="370" y="1283">&lt;</text></g>
<g id="n140" class="node"><ellipse cx="497" cy="1277" rx="69" ry="24"/><text x="497" y="1283">Seperator_)</text></g>
<g id="n141" class="node"><ellipse cx="685" cy="1277" rx="93" ry="24"/><text x="685" y="1283">ReturnStatement</text></g>
<g id="n142" class="node"><ellipse cx="997" cy="1277" rx="79" ry="24"/><text x="997" y="1283">NumericType</text></g>
<g id="n143" class="node"><ellipse cx="1155" cy="1277" rx="36" ry="24"/><text x="1155" y="1283">=</text></g>
<g id="n144" class="node"><ellipse cx="1283" cy="1277" rx="69" ry="24"/><text x="1283" y="1283">Seperator_;</text></g>
<g id="n145" class="node"><ellipse cx="1498" cy="1277" rx="43" ry="24"/><text x="1498" y="1283">Name</text></g>
<g id="n146" class="node"><ellipse cx="1629" cy="1277" rx="46" ry="24"/><text x="1629" y="1283">Literal</text></g>
<g id="n147" class="node"><ellipse cx="1792" cy="1277" rx="91" ry="24"/><text x="1792" y="1283">Keyword_return</text></g>
<g id="n148" class="node"><ellipse cx="1944" cy="1277" rx="36" ry="24"/><text x="1944" y="1283">/</text></g>
<g id="n149" class="node"><ellipse cx="2071" cy="1277" rx="69" ry="24"/><text x="2071" y="1283">Seperator_;</text></g>
<g id="n150" class="node"><ellipse cx="2247" cy="1277" rx="82" ry="24"/><text x="2247" y="1283">Identifier_rem</text></g>
<g id="n151" class="node"><ellipse cx="2483" cy="1277" rx="131" ry="24"/><text x="2483" y="1283">INTEGER_LITERAL_1</text></g>
<g id="n152" class="node"><ellipse cx="2730" cy="1277" rx="94" ry="24"/><text x="2730" y="1283">IfThenStatement</text></g>
<g id="n153" class="node"><ellipse cx="3171" cy="1277" rx="93" ry="24"/><text x="3171" y="1283">ReturnStatement</text></g>
<g id="n154" class="node"><ellipse cx="228" cy="1373" rx="43" ry="24"/><text x="228" y="1379">Name</text></g>
<g id="n155" class="node"><ellipse cx="369" cy="1373" rx="46" ry="24"/><text x="369" y="1379">Literal</text></g>
<g id="n156" class="node"><ellipse cx="531" cy="1373" rx="91" ry="24"/><text x="531" y="1379">Keyword_return</text></g>
<g id="n157" class="node"><ellipse cx="684" cy="1373" rx="36" ry="24"/><text x="684" y="1379">-</text></g>
<g id="n158" class="node"><ellipse cx="812" cy="1373" rx="69" ry="24"/><text x="812" y="1379">Seperator_;</text></g>
<g id="n159" class="node"><ellipse cx="981" cy="1373" rx="76" ry="24"/><text x="981" y="1379">Keyword_int</text></g>
<g id="n160" class="node"><ellipse cx="1164" cy="1373" rx="82" ry="24"/><text x="1164" y="1379">Identifier_rem</text></g>
<g id="n161" class="node"><ellipse cx="1306" cy="1373" rx="36" ry="24"/><text x="1306" y="1379">%</text></g>
<g id="n162" class="node"><ellipse cx="1485" cy="1373" rx="82" ry="24"/><text x="1485" y="1379">Identifier_rem</text></g>
<g id="n163" class="node"><ellipse cx="1722" cy="1373" rx="131" ry="24"/><text x="1722" y="1379">INTEGER_LITERAL_0</text></g>
<g id="n164" class="node"><ellipse cx="1939" cy="1373" rx="43" ry="24"/><text x="1939" y="1379">Name</text></g>
<g id="n165" class="node"><ellipse cx="2107" cy="1373" rx="46" ry="24"/><text x="2107" y="1379">Literal</text></g>
<g id="n166" class="node"><ellipse cx="2277" cy="1373" rx="70" ry="24"/><text x="2277" y="1379">Keyword_if</text></g>
<g id="n167" class="node"><ellipse cx="2441" cy="1373" rx="69" ry="24"/><text x="2441" y="1379">Seperator_(</text></g>
<g id="n168" class="node"><ellipse cx="2571" cy="1373" rx="36" ry="24"/><text x="2571" y="1379">&lt;</text></g>
<g id="n169" class="node"><ellipse cx="2699" cy="1373" rx="69" ry="24"/><text x="2699" y="1379">Seperator_)</text></g>
<g id="n170" class="node"><ellipse cx="2887" cy="1373" rx="93" ry="24"/><text x="2887" y="1379">ReturnStatement</text></g>
<g id="n171" class="node"><ellipse cx="3096" cy="1373" rx="91" ry="24"/><text x="3096" y="1379">Keyword_return</text></g>
<g id="n172" class="node"><ellipse cx="3247" cy="1373" rx="36" ry="24"/><text x="3247" y="1379">+</text></g>
<g id="n173" class="node"><ellipse cx="3375" cy="1373" rx="69" ry="24"/><text x="3375" y="1379">Seperator_;</text></g>
<g id="n174" class="node"><ellipse cx="173" cy="1469" rx="69" ry="24"/><text x="173" y="1475">Identifier_n</text></g>
<g id="n175" class="node"><ellipse cx="396" cy="1469" rx="131" ry="24"/><text x="396" y="1475">INTEGER_LITERAL_4</text></g>
<g id="n176" class="node"><ellipse cx="684" cy="1469" rx="46" ry="24"/><text x="684" y="1475">Literal</text></g>
<g id="n177" class="node"><ellipse cx="1222" cy="1469" rx="43" ry="24"/><text x="1222" y="1475">Name</text></g>
<g id="n178" class="node"><ellipse cx="1390" cy="1469" rx="46" ry="24"/><text x="1390" y="1475">Literal</text></g>
<g id="n179" class="node"><ellipse cx="1912" cy="1469" rx="69" ry="24"/><text x="1912" y="1475">Identifier_n</text></g>
<g id="n180" class="node"><ellipse cx="2136" cy="1469" rx="131" ry="24"/><text x="2136" y="1475">INTEGER_LITERAL_4</text></g>
<g id="n181" class="node"><ellipse cx="2404" cy="1469" rx="43" ry="24"/><text x="2404" y="1475">Name</text></g>
<g id="n182" class="node"><ellipse cx="2572" cy="1469" rx="46" ry="24"/><text x="2572" y="1475">Literal</text></g>
<g id="n183" class="node"><ellipse cx="2733" cy="1469" rx="91" ry="24"/><text x="2733" y="1475">Keyword_return</text></g>
<g id="n184" class="node"><ellipse cx="2887" cy="1469" rx="36" ry="24"/><text x="2887" y="1475">-</text></g>
<g id="n185" class="node"><ellipse cx="3014" cy="1469" rx="69" ry="24"/><text x="3014" y="1475">Seperator_;</text></g>
<g id="n186" class="node"><ellipse cx="3241" cy="1469" rx="36" ry="24"/><text x="3241" y="1475">/</text></g>
<g id="n187" class="node"><ellipse cx="3394" cy="1469" rx="46" ry="24"/><text x="3394" y="1475">Literal</text></g>
<g id="n188" class="node"><ellipse cx="684" cy="1565" rx="131" ry="24"/><text x="684" y="1571">INTEGER_LITERAL_1</text></g>
<g id="n189" class="node"><ellipse cx="1195" cy="1565" rx="69" ry="24"/><text x="1195" y="1571">Identifier_n</text></g>
<g id="n190" class="node"><ellipse cx="1418" cy="1565" rx="131" ry="24"/><text x="1418" y="1571">INTEGER_LITERAL_4</text></g>
<g id="n191" class="node"><ellipse cx="2376" cy="1565" rx="69" ry="24"/><text x="2376" y="1571">Identifier_n</text></g>
<g id="n192" class="node"><ellipse cx="2600" cy="1565" rx="131" ry="24"/><text x="2600" y="1571">INTEGER_LITERAL_9</text></g>
<g id="n193" class="node"><ellipse cx="2834" cy="1565" rx="46" ry="24"/><text x="2834" y="1571">Literal</text></g>
<g id="n194" class="node"><ellipse cx="3054" cy="1565" rx="116" ry="24"/><text x="3054" y="1571">PrimaryNoNewArray</text></g>
<g id="n195" class="node"><ellipse cx="3241" cy="1565" rx="46" ry="24"/><text x="3241" y="1571">Literal</text></g>
<g id="n196" class="node"><ellipse cx="3442" cy="1565" rx="131" ry="24"/><text x="3442" y="1571">INTEGER_LITERAL_1</text></g>
<g id="n197" class="node"><ellipse cx="2701" cy="1661" rx="131" ry="24"/><text x="2701" y="1667">INTEGER_LITERAL_1</text></g>
<g id="n198" class="node"><ellipse cx="2925" cy="1661" rx="69" ry="24"/><text x="2925" y="1667">Seperator_(</text></g>
<g id="n199" class="node"><ellipse cx="3055" cy="1661" rx="36" ry="24"/><text x="3055" y="1667">-</text></g>
<g id="n200" class="node"><ellipse cx="3184" cy="1661" rx="69" ry="24"/><text x="3184" y="1667">Seperator_)</text></g>
<g id="n201" class="node"><ellipse cx="3408" cy="1661" rx="131" ry="24"/><text x="3408" y="1667">INTEGER_LITERAL_4</text></g>
<g id="n202" class="node"><ellipse cx="2984" cy="1757" rx="43" ry="24"/><text x="2984" y="1763">Name</text></g>
<g id="n203" class="node"><ellipse cx="3125" cy="1757" rx="46" ry="24"/><text x="3125" y="1763">Literal</text></g>
<g id="n204" class="node"><ellipse cx="2929" cy="1853" rx="69" ry="24"/><text x="2929" y="1859">Identifier_n</text></g>
<g id="n205" class="node"><ellipse cx="3154" cy="1853" rx="131" ry="24"/><text x="3154" y="1859">INTEGER_LITERAL_9</text></g>
<g id="n206" class="node"><ellipse cx="4600" cy="509" rx="61" ry="24"/><text x="4600" y="515">Modifiers</text></g>
<g id="n207" class="node"><ellipse cx="4789" cy="509" rx="86" ry="24"/><text x="4789" y="515">MethodHeader</text></g>
<g id="n208" class="node"><ellipse cx="6250" cy="509" rx="41" ry="24"/><text x="6250" y="515">Block</text></g>
<g id="n209" class="node"><ellipse cx="4430" cy="605" rx="57" ry="24"/><text x="4430" y="611">Modifier</text></g>
<g id="n210" class="node"><ellipse cx="4600" cy="605" rx="57" ry="24"/><text x="4600" y="611">Modifier</text></g>
<g id="n211" class="node"><ellipse cx="4789" cy="605" rx="85" ry="24"/><text x="4789" y="611">Keyword_void</text></g>
<g id="n212" class="node"><ellipse cx="4981" cy="605" rx="67" ry="24"/><text x="4981" y="611">Declarator</text></g>
<g id="n213" class="node"><ellipse cx="6151" cy="605" rx="69" ry="24"/><text x="6151" y="611">Seperator_{</text></g>
<g id="n214" class="node"><ellipse cx="6345" cy="605" rx="93" ry="24"/><text x="6345" y="611">BlockStatements</text></g>
<g id="n215" class="node"><ellipse cx="6533" cy="605" rx="69" ry="24"/><text x="6533" y="611">Seperator_}</text></g>
<g id="n216" class="node"><ellipse cx="4395" cy="701" rx="87" ry="24"/><text x="4395" y="707">Keyword_public</text></g>
<g id="n217" class="node"><ellipse cx="4600" cy="701" rx="87" ry="24"/><text x="4600" y="707">Keyword_static</text></g>
<g id="n218" class="node"><ellipse cx="4800" cy="701" rx="88" ry="24"/><text x="4800" y="707">Identifier_main</text></g>
<g id="n219" class="node"><ellipse cx="4981" cy="701" rx="69" ry="24"/><text x="4981" y="707">Seperator_(</text></g>
<g id="n220" class="node"><ellipse cx="5136" cy="701" rx="62" ry="24"/><text x="5136" y="707">Parameter</text></g>
<g id="n221" class="node"><ellipse cx="5293" cy="701" rx="69" ry="24"/><text x="5293" y="707">Seperator_)</text></g>
<g id="n222" class="node"><ellipse cx="6345" cy="701" rx="93" ry="24"/><text x="6345" y="707">BlockStatements</text></g>
<g id="n223" class="node"><ellipse cx="7308" cy="701" rx="114" ry="24"/><text x="7308" y="707">ExpressionStatement</text></g>
<g id="n224" class="node"><ellipse cx="4987" cy="797" rx="65" ry="24"/><text x="4987" y="803">ArrayType</text></g>
<g id="n225" class="node"><ellipse cx="5159" cy="797" rx="83" ry="24"/><text x="5159" y="803">Identifier_args</text></g>
<g id="n226" class="node"><ellipse cx="6119" cy="797" rx="93" ry="24"/><text x="6119" y="803">BlockStatements</text></g>
<g id="n227" class="node"><ellipse cx="6667" cy="797" rx="114" ry="24"/><text x="6667" y="803">ExpressionStatement</text></g>
<g id="n228" class="node"><ellipse cx="7308" cy="797" rx="101" ry="24"/><text x="7308" y="803">MethodInvocation</text></g>
<g id="n229" class="node"><ellipse cx="7502" cy="797" rx="69" ry="24"/><text x="7502" y="803">Seperator_;</text></g>
<g id="n230" class="node"><ellipse cx="4842" cy="893" rx="83" ry="24"/><text x="4842" y="899">PrimitiveType</text></g>
<g id="n231" class="node"><ellipse cx="5008" cy="893" rx="37" ry="24"/><text x="5008" y="899">Dims</text></g>
<g id="n232" class="node"><ellipse cx="5553" cy="893" rx="90" ry="24"/><text x="5553" y="899">BlockStatement</text></g>
<g id="n233" class="node"><ellipse cx="6119" cy="893" rx="114" ry="24"/><text x="6119" y="899">ExpressionStatement</text></g>
<g id="n234" class="node"><ellipse cx="6667" cy="893" rx="36" ry="24"/><text x="6667" y="899">=</text></g>
<g id="n235" class="node"><ellipse cx="6795" cy="893" rx="69" ry="24"/><text x="6795" y="899">Seperator_;</text></g>
<g id="n236" class="node"><ellipse cx="6983" cy="893" rx="43" ry="24"/><text x="6983" y="899">Name</text></g>
<g id="n237" class="node"><ellipse cx="7119" cy="893" rx="69" ry="24"/><text x="7119" y="899">Seperator_.</text></g>
<g id="n238" class="node"><ellipse cx="7308" cy="893" rx="95" ry="24"/><text x="7308" y="899">Identifier_println</text></g>
<g id="n239" class="node"><ellipse cx="7494" cy="893" rx="69" ry="24"/><text x="7494" y="899">Seperator_(</text></g>
<g id="n240" class="node"><ellipse cx="7691" cy="893" rx="101" ry="24"/><text x="7691" y="899">MethodInvocation</text></g>
<g id="n241" class="node"><ellipse cx="7883" cy="893" rx="69" ry="24"/><text x="7883" y="899">Seperator_)</text></g>
<g id="n242" class="node"><ellipse cx="4822" cy="989" rx="92" ry="24"/><text x="4822" y="995">Keyword_String</text></g>
<g id="n243" class="node"><ellipse cx="5009" cy="989" rx="69" ry="24"/><text x="5009" y="995">Seperator_[</text></g>
<g id="n244" class="node"><ellipse cx="5172" cy="989" rx="69" ry="24"/><text x="5172" y="995">Seperator_]</text></g>
<g id="n245" class="node"><ellipse cx="5348" cy="989" rx="79" ry="24"/><text x="5348" y="995">NumericType</text></g>
<g id="n246" class="node"><ellipse cx="5489" cy="989" rx="36" ry="24"/><text x="5489" y="995">=</text></g>
<g id="n247" class="node"><ellipse cx="5615" cy="989" rx="69" ry="24"/><text x="5615" y="995">Seperator_;</text></g>
<g id="n248" class="node"><ellipse cx="6022" cy="989" rx="101" ry="24"/><text x="6022" y="995">MethodInvocation</text></g>
<g id="n249" class="node"><ellipse cx="6216" cy="989" rx="69" ry="24"/><text x="6216" y="995">Seperator_;</text></g>
<g id="n250" class="node"><ellipse cx="6668" cy="989" rx="43" ry="24"/><text x="6668" y="995">Name</text></g>
<g id="n251" class="node"><ellipse cx="6800" cy="989" rx="46" ry="24"/><text x="6800" y="995">Literal</text></g>
<g id="n252" class="node"><ellipse cx="6923" cy="989" rx="43" ry="24"/><text x="6923" y="995">Name</text></g>
<g id="n253" class="node"><ellipse cx="7058" cy="989" rx="69" ry="24"/><text x="7058" y="995">Seperator_.</text></g>
<g id="n254" class="node"><ellipse cx="7229" cy="989" rx="79" ry="24"/><text x="7229" y="995">Identifier_out</text></g>
<g id="n255" class="node"><ellipse cx="7464" cy="989" rx="90" ry="24"/><text x="7464" y="995">Identifier_count</text></g>
<g id="n256" class="node"><ellipse cx="7648" cy="989" rx="69" ry="24"/><text x="7648" y="995">Seperator_(</text></g>
<g id="n257" class="node"><ellipse cx="7784" cy="989" rx="43" ry="24"/><text x="7784" y="995">Name</text></g>
<g id="n258" class="node"><ellipse cx="7920" cy="989" rx="69" ry="24"/><text x="7920" y="995">Seperator_)</text></g>
<g id="n259" class="node"><ellipse cx="5181" cy="1085" rx="76" ry="24"/><text x="5181" y="1091">Keyword_int</text></g>
<g id="n260" class="node"><ellipse cx="5350" cy="1085" rx="69" ry="24"/><text x="5350" y="1091">Identifier_n</text></g>
<g id="n261" class="node"><ellipse cx="5489" cy="1085" rx="46" ry="24"/><text x="5489" y="1091">Literal</text></g>
<g id="n262" class="node"><ellipse cx="5603" cy="1085" rx="43" ry="24"/><text x="5603" y="1091">Name</text></g>
<g id="n263" class="node"><ellipse cx="5740" cy="1085" rx="69" ry="24"/><text x="5740" y="1091">Seperator_.</text></g>
<g id="n264" class="node"><ellipse cx="5929" cy="1085" rx="95" ry="24"/><text x="5929" y="1091">Identifier_println</text></g>
<g id="n265" class="node"><ellipse cx="6116" cy="1085" rx="69" ry="24"/><text x="6116" y="1091">Seperator_(</text></g>
<g id="n266" class="node"><ellipse cx="6311" cy="1085" rx="101" ry="24"/><text x="6311" y="1091">MethodInvocation</text></g>
<g id="n267" class="node"><ellipse cx="6505" cy="1085" rx="69" ry="24"/><text x="6505" y="1091">Seperator_)</text></g>
<g id="n268" class="node"><ellipse cx="6668" cy="1085" rx="69" ry="24"/><text x="6668" y="1091">Identifier_n</text></g>
<g id="n269" class="node"><ellipse cx="6904" cy="1085" rx="143" ry="24"/><text x="6904" y="1091">INTEGER_LITERAL_143</text></g>
<g id="n270" class="node"><ellipse cx="7169" cy="1085" rx="98" ry="24"/><text x="7169" y="1091">Identifier_System</text></g>
<g id="n271" class="node"><ellipse cx="7784" cy="1085" rx="69" ry="24"/><text x="7784" y="1091">Identifier_n</text></g>
<g id="n272" class="node"><ellipse cx="5400" cy="1181" rx="137" ry="24"/><text x="5400" y="1187">INTEGER_LITERAL_90</text></g>
<g id="n273" class="node"><ellipse cx="5603" cy="1181" rx="43" ry="24"/><text x="5603" y="1187">Name</text></g>
<g id="n274" class="node"><ellipse cx="5740" cy="1181" rx="69" ry="24"/><text x="5740" y="1187">Seperator_.</text></g>
<g id="n275" class="node"><ellipse cx="5911" cy="1181" rx="79" ry="24"/><text x="5911" y="1187">Identifier_out</text></g>
<g id="n276" class="node"><ellipse cx="6116" cy="1181" rx="90" ry="24"/><text x="6116" y="1187">Identifier_count</text></g>
<g id="n277" class="node"><ellipse cx="6299" cy="1181" rx="69" ry="24"/><text x="6299" y="1187">Seperator_(</text></g>
<g id="n278" class="node"><ellipse cx="6436" cy="1181" rx="43" ry="24"/><text x="6436" y="1187">Name</text></g>
<g id="n279" class="node"><ellipse cx="6572" cy="1181" rx="69" ry="24"/><text x="6572" y="1187">Seperator_)</text></g>
<g id="n280" class="node"><ellipse cx="5605" cy="1277" rx="98" ry="24"/><text x="5605" y="1283">Identifier_System</text></g>
<g id="n281" class="node"><ellipse cx="6436" cy="1277" rx="69" ry="24"/><text x="6436" y="1283">Identifier_n</text></g>
</svg>
